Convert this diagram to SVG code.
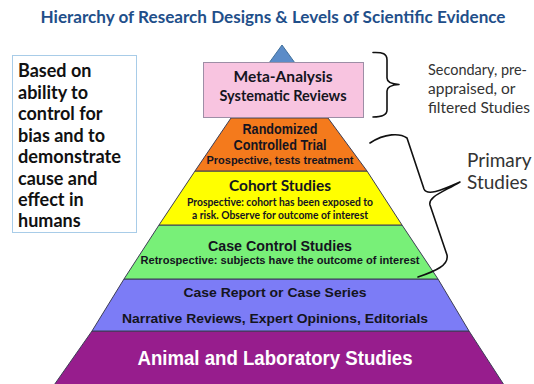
<svg xmlns="http://www.w3.org/2000/svg" width="534" height="384" viewBox="0 0 534 384">
<style>
.band{stroke:#3d3d55;stroke-width:1}
.t{font-family:"Liberation Sans",Arial,sans-serif;font-weight:bold;fill:#141420;text-anchor:middle}
.c{font-family:Lato,"Open Sans",sans-serif;font-weight:bold;fill:#141420;text-anchor:middle}
.side{font-family:Lato,"Open Sans",sans-serif;fill:#333;font-size:15.5px}
.brace{fill:none;stroke:#111;stroke-width:1.6;stroke-linejoin:round;stroke-linecap:round}
</style>
<rect width="534" height="384" fill="#fff"/>
<text x="273" y="23" font-family="Lato,'Open Sans',sans-serif" font-weight="bold" font-size="17.5" fill="#1f4f8a" text-anchor="middle" textLength="465" lengthAdjust="spacingAndGlyphs">Hierarchy of Research Designs &amp; Levels of Scientific Evidence</text>

<g id="criteria">
<rect x="12.5" y="55.5" width="124" height="177" fill="#fff" stroke="#a8cce8" stroke-width="1"/>
<g font-family="Lato,'Open Sans',sans-serif" font-weight="bold" font-size="18" fill="#111">
<text x="18" y="77">Based on</text>
<text x="18" y="98.5">ability to</text>
<text x="18" y="120">control for</text>
<text x="18" y="141.5">bias and to</text>
<text x="18" y="163" textLength="103" lengthAdjust="spacingAndGlyphs">demonstrate</text>
<text x="18" y="184.5">cause and</text>
<text x="18" y="206">effect in</text>
<text x="18" y="227">humans</text>
</g>
</g>

<g id="apex">
<polygon points="282,45 295,63 269,63" fill="#5b8cc8" stroke="#41719c" stroke-width="1"/>
</g>

<g id="animal">
<polygon class="band" points="92,331 469,331 506,388 52,388" fill="#971d8d"/>
<text class="t" x="275" y="365" font-size="20" fill="#fff" style="fill:#fff" textLength="275" lengthAdjust="spacingAndGlyphs">Animal and Laboratory Studies</text>
</g>

<g id="case-report">
<polygon class="band" points="124,279 438,279 469,331 92,331" fill="#7c7cf6"/>
<text class="t" x="275" y="297" font-size="13" textLength="183" lengthAdjust="spacingAndGlyphs">Case Report or Case Series</text>
<text class="t" x="275" y="323" font-size="13" textLength="306" lengthAdjust="spacingAndGlyphs">Narrative Reviews, Expert Opinions, Editorials</text>
</g>

<g id="case-control">
<polygon class="band" points="159,225 402,225 438,279 124,279" fill="#78f078"/>
<text class="t" x="280" y="251" font-size="15.5" textLength="144" lengthAdjust="spacingAndGlyphs">Case Control Studies</text>
<text class="t" x="280" y="264" font-size="11" textLength="279" lengthAdjust="spacingAndGlyphs">Retrospective: subjects have the outcome of interest</text>
</g>

<g id="cohort">
<polygon class="band" points="195,171 367,171 402,225 159,225" fill="#ffff00"/>
<text class="c" x="280" y="191" font-size="15.5" textLength="102" lengthAdjust="spacingAndGlyphs">Cohort Studies</text>
<text class="c" x="280" y="206" font-size="11" textLength="186" lengthAdjust="spacingAndGlyphs">Prospective: cohort has been exposed to</text>
<text class="c" x="280" y="218.5" font-size="11" textLength="176" lengthAdjust="spacingAndGlyphs">a risk. Observe for outcome of interest</text>
</g>

<g id="rct">
<polygon class="band" points="231,118 328,118 367,171 195,171" fill="#f47a1c"/>
<text class="t" x="280" y="134" font-size="14" textLength="75" lengthAdjust="spacingAndGlyphs">Randomized</text>
<text class="t" x="280" y="150" font-size="14" textLength="93" lengthAdjust="spacingAndGlyphs">Controlled Trial</text>
<text class="t" x="280" y="163.5" font-size="11" textLength="147" lengthAdjust="spacingAndGlyphs">Prospective, tests treatment</text>
</g>

<g id="meta-analysis">
<rect x="203.5" y="62.5" width="160" height="55" fill="#f8c4e0" stroke="#9d8ea6" stroke-width="1"/>
<text class="c" x="283" y="82" font-size="15" textLength="99" lengthAdjust="spacingAndGlyphs">Meta-Analysis</text>
<text class="c" x="283" y="101" font-size="15" textLength="127" lengthAdjust="spacingAndGlyphs">Systematic Reviews</text>
</g>

<g id="secondary-label">
<text class="side" x="428" y="75" textLength="99" lengthAdjust="spacingAndGlyphs">Secondary, pre-</text>
<text class="side" x="428" y="94">appraised, or</text>
<text class="side" x="428" y="113">filtered Studies</text>
</g>

<g id="primary-label">
<text class="side" x="467" y="167" font-size="19" style="font-size:19px">Primary</text>
<text class="side" x="467" y="189" font-size="19" style="font-size:19px">Studies</text>
</g>

<g id="connectors">
<path class="brace" d="M373,52.5 C383,52 387,54 387,60 L387,78 C387,82 390,84 399,84.5 C390,85 387,87 387,91 L387,110 C387,115 383,117 373,117"/>
<path class="brace" d="M370,143 C385,133 400,133 407,138 L424,189 C427,196 440,191 460,182 C441,193 428,197 430,205 L447,255 C449,265 436,271 418,277"/>
</g>
</svg>
